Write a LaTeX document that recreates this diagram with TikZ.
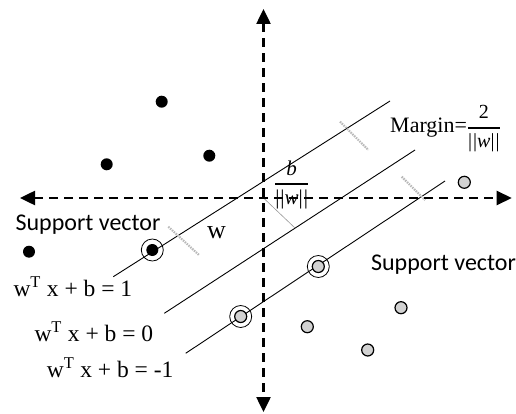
\documentclass[tikz,border=0pt]{standalone}
\usepackage{amsmath}
\usepackage{fontspec}
\setmainfont{Liberation Serif}
\newfontfamily\svfont{Carlito}
\usetikzlibrary{arrows.meta}

\begin{document}
\begin{tikzpicture}[x=1pt, y=-1pt,
		axis/.style={line width=2.5pt, dash pattern=on 9pt off 6pt,
			{Triangle[length=15pt,width=14pt]}-{Triangle[length=15pt,width=14pt]}},
		plane/.style={line width=0.9pt},
		negpt/.style={circle, fill=black, minimum size=12pt, inner sep=0pt},
		pospt/.style={circle, draw=black, fill=gray!35, line width=1.2pt, minimum size=12pt, inner sep=0pt},
		ring/.style={circle, draw, line width=0.8pt, minimum size=22pt, inner sep=0pt},
		fuzzy/.style={gray!55, line width=2.2pt, dash pattern=on 1.5pt off 1pt},
		svlabel/.style={font=\svfont\fontsize{24}{26}\selectfont, inner sep=0pt},
		eqlabel/.style={font=\fontsize{23.5}{26}\selectfont, inner sep=0pt, anchor=west}]
	\useasboundingbox (0,0) rectangle (516,414);

	% Hiperplanos
	\coordinate (p1a) at (113.3,276.7);
	\coordinate (p1b) at (390,101);
	\coordinate (p0a) at (164.3,313.3);
	\coordinate (p0b) at (415,150);
	\coordinate (pma) at (185.7,353.3);
	\coordinate (pmb) at (445,181);
	\draw[plane] (p1a) -- (p1b);
	\draw[plane] (p0a) -- (p0b);
	\draw[plane] (pma) -- (pmb);

	% Vector w (perpendicular)
	\coordinate (orig) at (263.5,198);
	\coordinate (wend) at (295,228);
	\draw[gray!80, line width=0.6pt] (orig) -- (wend);

	% Marcas del margen
	\coordinate (m1a) at (340,121.7);
	\coordinate (m1b) at (368.3,150);
	\coordinate (m2a) at (401.7,176.7);
	\coordinate (m2b) at (425,200);
	\coordinate (m3a) at (168.3,226.7);
	\coordinate (m3b) at (199,255);
	\draw[fuzzy] (m1a) -- (m1b);
	\draw[fuzzy] (m2a) -- (m2b);
	\draw[fuzzy] (m3a) -- (m3b);

	% Clase negativa
	\node[negpt] (n1) at (161.7,101.7) {};
	\node[negpt] (n2) at (106.7,164.3) {};
	\node[negpt] (n3) at (209.3,155.7) {};
	\node[negpt] (n4) at (29,251.7) {};
	\node[negpt] (n5) at (152.3,250) {};
	\node[ring] (r5) at (n5) {};

	% Clase positiva
	\node[pospt] (q1) at (464.3,182.3) {};
	\node[pospt] (q2) at (318.3,266.5) {};
	\node[ring] (r2) at (q2) {};
	\node[pospt] (q3) at (240.7,316.5) {};
	\node[ring] (r3) at (q3) {};
	\node[pospt] (q4) at (401,307.7) {};
	\node[pospt] (q5) at (307.3,326.7) {};
	\node[pospt] (q6) at (367.7,350) {};

	% Etiquetas
	\node[svlabel] (sv1) at (88,225) {Support vector};
	\node[svlabel] (sv2) at (443.5,265) {Support vector};
	\node[font=\fontsize{26}{28}\selectfont, inner sep=0pt] (wlab) at (216.5,233) {w};
	\node[eqlabel] (eq1) at (13.3,287) {w\textsuperscript{T} x + b = 1};
	\node[eqlabel] (eq0) at (34.3,332) {w\textsuperscript{T} x + b = 0};
	\node[eqlabel] (eqm) at (46.7,368) {w\textsuperscript{T} x + b = -1};
	\node[font=\fontsize{22}{24}\selectfont, inner sep=0pt, anchor=base west] (marg) at (390,133)
		{Margin={\fontsize{20}{22}\selectfont$\genfrac{}{}{1.6pt}{0}{\text{2}}{\text{|\kern1pt|\textit{w}|\kern1pt|}}$}};
	\node[font=\fontsize{21}{23}\selectfont, inner sep=0pt] (bw) at (291.7,185)
		{$\genfrac{}{}{1.8pt}{0}{\text{\textit{b}}}{\text{|\kern1pt|\textit{w}|\kern1pt|}}$};

	% Ejes
	\coordinate (xl) at (20,198);
	\coordinate (xr) at (511.7,198);
	\coordinate (yt) at (263.5,9);
	\coordinate (yb) at (263.5,412);
	\draw[axis] (xl) -- (xr);
	\draw[axis] (yt) -- (yb);

\end{tikzpicture}
\end{document}
